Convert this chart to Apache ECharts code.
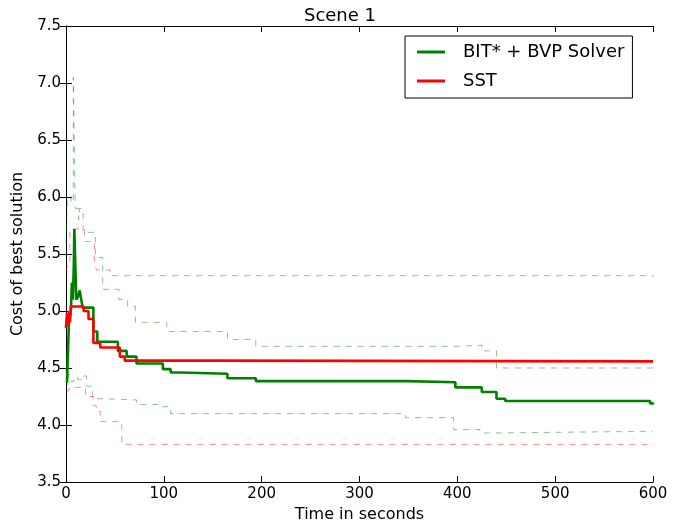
<!DOCTYPE html>
<html>
<head>
<meta charset="utf-8">
<script src="https://cdn.jsdelivr.net/npm/echarts@6/dist/echarts.min.js"></script>
<style>
html,body{margin:0;padding:0;background:#fff;}
#chart{width:680px;height:529px;}
</style>
</head>
<body>
<div id="chart"></div>
<script>
// ---- data: [time (s), value from that time on] ----
const seriesNames = ['BIT* + BVP Solver', 'SST'];
const xTicks = [0, 100, 200, 300, 400, 500, 600];
const yTicks = [3.5, 4.0, 4.5, 5.0, 5.5, 6.0, 6.5, 7.0, 7.5];

const bitMean = [[1,4.37],[3,4.9],[5,5.0],[6,5.25],[7,5.1],[8,5.4],[8.5,5.72],[10.5,5.1],[12,5.12],[14,5.18],[16,5.08],[17,5.03],[28,4.82],[32,4.73],[53,4.65],[62,4.6],[72,4.54],[99,4.49],[107,4.46],[116,4.45],[165,4.41],[194,4.385],[349,4.375],[398,4.33],[425,4.29],[440,4.23],[449,4.21],[597,4.19],[600,4.18]];
const bitUpper = [[0,5.6],[1.5,6.0],[5,5.95],[7.5,7.05],[9.5,5.9],[13,5.8],[14,5.9],[17.5,5.69],[30,5.47],[37.5,5.19],[54,5.1],[63,5.04],[71,4.9],[103,4.82],[165,4.75],[194,4.69],[396,4.70],[425,4.65],[440,4.5],[600,4.51]];
const bitLower = [[0,4.5],[1,4.35],[3,4.45],[5,4.38],[8,4.42],[12,4.4],[17,4.43],[21,4.34],[27,4.23],[37,4.22],[72,4.18],[99,4.16],[107,4.1],[347,4.065],[396,3.96],[423,3.93],[438,3.945],[600,3.94]];
const sstMean = [[0,4.85],[1,4.98],[2,4.87],[3,5.0],[4,4.9],[5,5.04],[18,5.0],[23,4.93],[28,4.72],[35,4.68],[55,4.6],[60,4.565],[150,4.558],[600,4.555]];
const sstUpper = [[0,5.35],[1.5,5.4],[4,5.72],[19,5.61],[29,5.45],[31,5.36],[45,5.31],[600,5.30]];
const sstLower = [[0,4.3],[3,4.33],[20,4.25],[28,4.17],[31,4.12],[35,4.03],[57,3.83],[600,3.82]];

const GREEN = '#008000';
const RED = '#ff0000';
const FONT = 'DejaVu Sans';

const chart = echarts.init(document.getElementById('chart'), null, {renderer: 'canvas'});

function meanSeries(name, data, color) {
  return {
    name: name, type: 'line', data: data, step: 'end', symbol: 'none',
    xAxisIndex: 0, yAxisIndex: 0, z: 5,
    lineStyle: {color: color, width: 2.6}, itemStyle: {color: color},
    animation: false
  };
}
function bandSeries(name, data, color) {
  return {
    name: name, type: 'line', data: data, step: 'end', symbol: 'none',
    xAxisIndex: 0, yAxisIndex: 0, z: 3,
    lineStyle: {color: color, width: 1, type: [6, 6], opacity: 0.45},
    animation: false
  };
}

const axisCommon = {
  axisLine: {show: true, lineStyle: {color: '#000', width: 1}},
  axisTick: {show: true, inside: true, length: 6, lineStyle: {color: '#000'}},
  splitLine: {show: false}
};

chart.setOption({
  backgroundColor: '#fff',
  animation: false,
  title: {
    text: 'Scene 1', left: 'center', top: 2,
    textStyle: {fontFamily: FONT, fontSize: 18, fontWeight: 'normal', color: '#000'}
  },
  legend: {
    data: seriesNames,
    orient: 'vertical', left: 405, top: 36,
    backgroundColor: '#fff',
    borderColor: '#000', borderWidth: 1,
    padding: [6, 8, 7, 12],
    itemGap: 9, itemWidth: 28, itemHeight: 3,
    icon: 'rect',
    textStyle: {fontFamily: FONT, fontSize: 18, color: '#000', lineHeight: 20, padding: [0, 0, 0, 13]}
  },
  grid: {left: 66, right: 27, top: 26, bottom: 47},
  xAxis: [
    Object.assign({}, axisCommon, {
      type: 'value', min: xTicks[0], max: xTicks[xTicks.length - 1], interval: 100,
      position: 'bottom',
      name: 'Time in seconds', nameLocation: 'middle', nameGap: 24,
      nameTextStyle: {fontFamily: FONT, fontSize: 16, color: '#000'},
      axisLabel: {fontFamily: FONT, fontSize: 15, color: '#000', margin: 5}
    }),
    Object.assign({}, axisCommon, {
      type: 'value', min: xTicks[0], max: xTicks[xTicks.length - 1], interval: 100,
      position: 'top', axisLabel: {show: false}
    })
  ],
  yAxis: [
    Object.assign({}, axisCommon, {
      type: 'value', min: yTicks[0], max: yTicks[yTicks.length - 1], interval: 0.5,
      position: 'left',
      name: 'Cost of best solution', nameLocation: 'middle', nameGap: 40,
      nameTextStyle: {fontFamily: FONT, fontSize: 16, color: '#000'},
      axisLabel: {fontFamily: FONT, fontSize: 15, color: '#000', margin: 5,
        formatter: v => v.toFixed(1)}
    }),
    Object.assign({}, axisCommon, {
      type: 'value', min: yTicks[0], max: yTicks[yTicks.length - 1], interval: 0.5,
      position: 'right', axisLabel: {show: false}
    })
  ],
  series: [
    bandSeries('BIT upper', bitUpper, GREEN),
    bandSeries('BIT lower', bitLower, GREEN),
    bandSeries('SST upper', sstUpper, RED),
    bandSeries('SST lower', sstLower, RED),
    meanSeries(seriesNames[0], bitMean, GREEN),
    meanSeries(seriesNames[1], sstMean, RED)
  ]
});
</script>
</body>
</html>
